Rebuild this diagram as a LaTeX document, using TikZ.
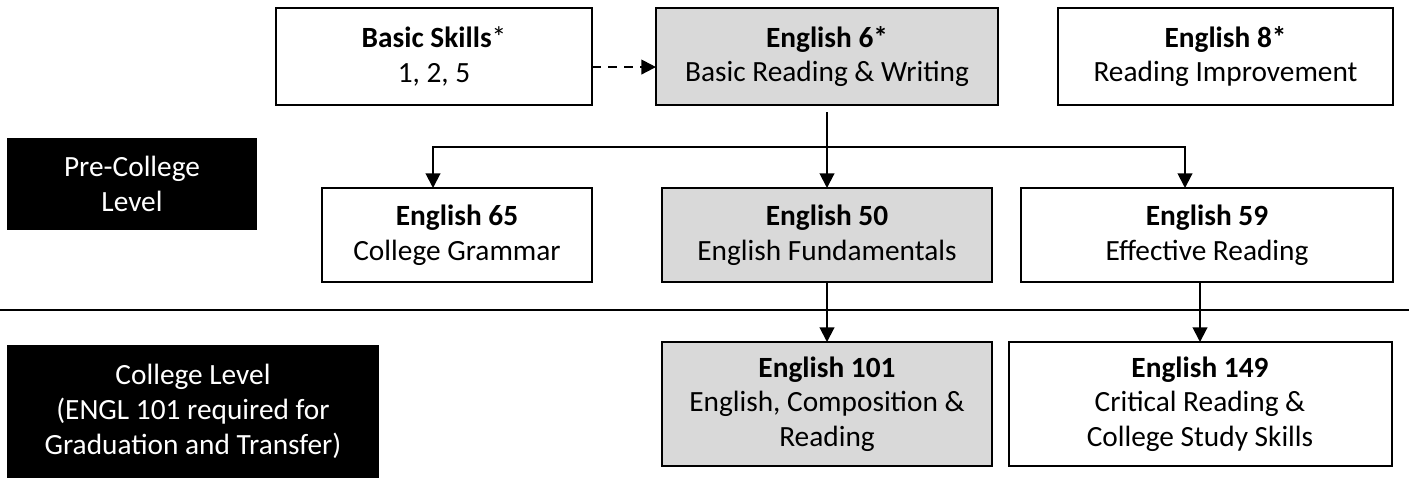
\documentclass[tikz,border=0pt]{standalone}
\usepackage{fontspec}
\setmainfont{Carlito}
\usepackage{tikz}
\usetikzlibrary{arrows.meta,positioning}
\definecolor{boxgray}{RGB}{217,217,217}

\begin{document}
\begin{tikzpicture}[x=0.75pt, y=-0.75pt, ->, >={Triangle[length=11pt,width=11pt]},
  line width=1.5pt,
  every node/.style={font=\fontsize{22}{26}\selectfont, inner sep=0pt, outer sep=0pt, align=center},
  course/.style={draw, fill=white, minimum height=72.75pt},
  core/.style={course, fill=boxgray},
  level/.style={fill=black, text=white}]
  \useasboundingbox (0,0) rectangle (1409,479);
  % top row
  \node[course, minimum width=237pt] (skills) at (434,56.5) {\textbf{Basic Skills}*\\1, 2, 5};
  \node[core, minimum width=256.5pt] (eng6) at (827,56.5) {\textbf{English 6*}\\Basic Reading \& Writing};
  \node[course, minimum width=251.25pt] (eng8) at (1225.5,56.5) {\textbf{English 8*}\\Reading Improvement};
  % pre-college row
  \node[level, minimum width=187.5pt, minimum height=69pt] (pre) at (132,184) {Pre-College\\Level};
  \node[course, minimum width=202.5pt, minimum height=70.5pt] (eng65) at (457,235) {\textbf{English 65}\\College Grammar};
  \node[core, minimum width=247.5pt, minimum height=70.5pt] (eng50) at (827,235) {\textbf{English 50}\\English Fundamentals};
  \node[course, minimum width=279pt, minimum height=70.5pt] (eng59) at (1207,235) {\textbf{English 59}\\Effective Reading};
  % college row
  \node[level, minimum width=279pt, minimum height=99.75pt] (college) at (193,411.5) {College Level\\(ENGL 101 required for\\Graduation and Transfer)};
  \node[core, minimum width=247.5pt, minimum height=93pt] (eng101) at (827,404) {\textbf{English 101}\\English, Composition \&\\Reading};
  \node[course, minimum width=287.25pt, minimum height=93pt] (eng149) at (1200,404) {\textbf{English 149}\\Critical Reading \&\\College Study Skills};

  \coordinate (left) at (0,310);
  \coordinate (right) at (1409,310);
  \draw[-] (left) -- (right);

  \draw[dash pattern=on 7pt off 5pt] ([yshift=-7.9pt]skills.east) -- ([yshift=-7.9pt]eng6.west);
  \coordinate (fork) at (827,147);
  \draw[-] ([yshift=-5.25pt]eng6.south) -- (fork);
  \draw (fork) -- (eng50.north);
  \draw (fork) -| ([xshift=-18pt]eng65.north);
  \draw (fork) -| ([xshift=-16.5pt]eng59.north);
  %\draw (eng6) edge (eng50);
  \draw (eng50.south) -- (eng101.north);
  \draw ([xshift=-5.25pt]eng59.south) -- (eng149.north);
\end{tikzpicture}
\end{document}
